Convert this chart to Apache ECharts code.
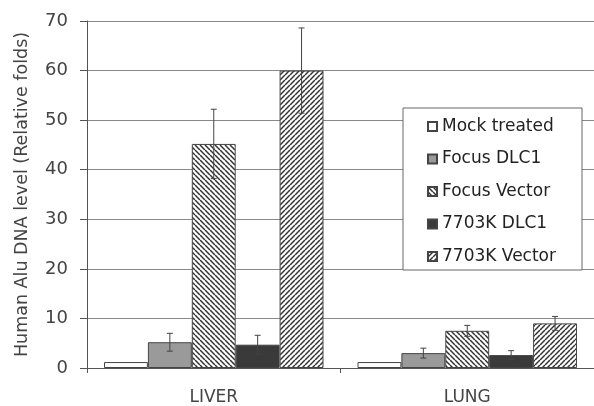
<!DOCTYPE html>
<html><head><meta charset="utf-8">
<script src="https://cdn.jsdelivr.net/npm/echarts@6/dist/echarts.min.js"></script>
<style>html,body{margin:0;padding:0;background:#fff}#c{width:594px;height:406px}</style>
</head><body><div id="c"></div>
<script>
var categories = ['LIVER', 'LUNG'];
var seriesNames = ['Mock treated', 'Focus DLC1', 'Focus Vector', '7703K DLC1', '7703K Vector'];
var mockTreated = [1.2, 1.2];
var focusDLC1 = [5.2, 3.0];
var focusVector = [45.2, 7.5];
var k7703DLC1 = [4.7, 2.6];
var k7703Vector = [60.0, 9.0];
var errMock = [0, 0];
var errFocusDLC1 = [1.8, 1.0];
var errFocusVector = [7.0, 1.1];
var err7703DLC1 = [1.9, 0.9];
var err7703Vector = [8.6, 1.4];
var yTicks = [0, 10, 20, 30, 40, 50, 60, 70];

function hatch(dir) {
  var s = 5, c = document.createElement('canvas');
  c.width = s; c.height = s;
  var g = c.getContext('2d');
  g.fillStyle = '#fff'; g.fillRect(0, 0, s, s);
  g.strokeStyle = '#333'; g.lineWidth = 1.5;
  for (var k = -s; k <= s; k += s) {
    g.beginPath();
    if (dir === 'back') { g.moveTo(k, 0); g.lineTo(k + s, s); }
    else { g.moveTo(k, s); g.lineTo(k + s, 0); }
    g.stroke();
  }
  return { image: c, repeat: 'repeat' };
}

var values = [mockTreated, focusDLC1, focusVector, k7703DLC1, k7703Vector];
var errors = [errMock, errFocusDLC1, errFocusVector, err7703DLC1, err7703Vector];
var fills = ['#ffffff', '#9a9a9a', hatch('back'), '#3a3a3a', hatch('fwd')];
var gapPct = 0.134;

var series = [];
values.forEach(function (v, i) {
  series.push({
    name: seriesNames[i], type: 'bar', data: v,
    barGap: '0%', barCategoryGap: (gapPct * 100) + '%',
    itemStyle: { color: fills[i], borderColor: '#444', borderWidth: 1 },
    emphasis: { disabled: true }
  });
});
var errData = [];
values.forEach(function (v, i) {
  v.forEach(function (val, j) {
    if (errors[i][j] > 0) errData.push([j, val, errors[i][j], i]);
  });
});
series.push({
  type: 'custom', z: 10, silent: true,
  data: errData,
  renderItem: function (params, api) {
    var cat = api.value(0), val = api.value(1), e = api.value(2), idx = api.value(3);
    var cw = api.size([1, 0])[0];
    var bw = cw * (1 - gapPct) / 5;
    var c = api.coord([cat, val]);
    var x = c[0] - cw * (1 - gapPct) / 2 + bw * (idx + 0.5);
    var top = api.coord([cat, val + e])[1];
    var bot = api.coord([cat, val - e])[1];
    var st = { stroke: '#444', lineWidth: 1 };
    return { type: 'group', children: [
      { type: 'line', shape: { x1: x, y1: top, x2: x, y2: bot }, style: st },
      { type: 'line', shape: { x1: x - 3, y1: top, x2: x + 3, y2: top }, style: st },
      { type: 'line', shape: { x1: x - 3, y1: bot, x2: x + 3, y2: bot }, style: st }
    ]};
  }
});

var chart = echarts.init(document.getElementById('c'));
chart.setOption({
  animation: false,
  textStyle: { fontFamily: 'DejaVu Sans' },
  grid: { left: 87, top: 21, width: 508, height: 348 },
  xAxis: {
    type: 'category', data: categories,
    axisLine: { lineStyle: { color: '#555' } },
    axisTick: { show: true, length: 5, lineStyle: { color: '#555' } },
    axisLabel: { color: '#444', fontSize: 17, margin: 21 }
  },
  yAxis: {
    type: 'value', min: yTicks[0], max: yTicks[yTicks.length - 1], interval: 10,
    name: 'Human Alu DNA level (Relative folds)', nameLocation: 'middle', nameGap: 56,
    nameTextStyle: { color: '#444', fontSize: 17.5 },
    axisLine: { show: true, lineStyle: { color: '#555' } },
    axisTick: { show: true, length: 7, lineStyle: { color: '#555' } },
    axisLabel: { color: '#444', fontSize: 18, margin: 19 },
    splitLine: { lineStyle: { color: '#888', width: 1 } }
  },
  legend: {
    orient: 'vertical', left: 422, top: 113, itemGap: 15.5, z: 20,
    itemWidth: 9, itemHeight: 9, icon: 'rect', selectedMode: false,
    textStyle: { color: '#222', fontSize: 17 },
    data: seriesNames
  },
  graphic: [{
    type: 'rect', z: 5, shape: { x: 403, y: 108, width: 179, height: 162 },
    style: { fill: '#fff', stroke: '#666', lineWidth: 1 }
  }],
  series: series
});
</script></body></html>
